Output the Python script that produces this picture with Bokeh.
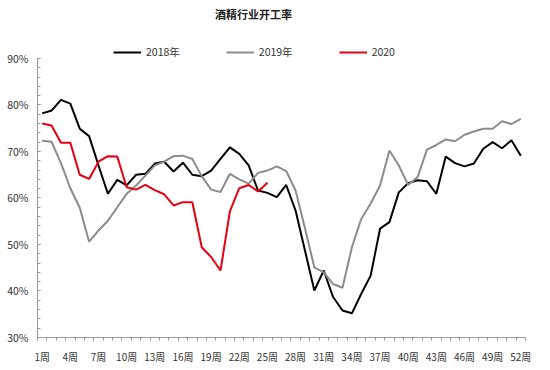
from bokeh.plotting import figure
from bokeh.models import Range1d, FixedTicker, Legend, LegendItem, Label
from bokeh.embed import file_html
from bokeh.resources import INLINE

title_text = "酒精行业开工率"
series_names = ["2018年", "2019年", "2020"]
week_labels = [f"{i}周" for i in range(1, 53)]
label_weeks = [1, 4, 7, 10, 13, 16, 19, 22, 25, 28, 31, 34, 37, 40, 43, 46, 49, 52]

w2018 = [78.2, 78.8, 81.1, 80.3, 74.9, 73.3, 67.0, 60.9, 63.9, 62.7,
         65.0, 65.2, 67.4, 67.8, 65.7, 67.6, 65.0, 64.7, 65.9, 68.4,
         70.9, 69.5, 67.0, 61.6, 61.1, 60.2, 62.8, 57.3, 48.7, 40.1,
         44.4, 38.7, 35.8, 35.2, 39.4, 43.3, 53.4, 54.8, 61.2, 63.2,
         63.8, 63.6, 60.9, 68.9, 67.5, 66.8, 67.4, 70.6, 72.0, 70.7,
         72.4, 69.1]
w2019 = [72.3, 72.1, 67.5, 62.1, 57.9, 50.6, 53.0, 55.1, 58.0, 60.9,
         62.7, 64.8, 67.0, 67.8, 69.0, 69.1, 68.4, 64.7, 61.8, 61.3,
         65.2, 64.0, 63.1, 65.4, 65.9, 66.8, 65.8, 61.6, 53.5, 45.1,
         44.0, 41.5, 40.7, 49.4, 55.5, 58.8, 62.7, 70.2, 67.0, 62.8,
         64.5, 70.4, 71.4, 72.6, 72.2, 73.6, 74.3, 74.9, 74.9, 76.5,
         75.9, 77.0]
w2020 = [76.0, 75.6, 71.9, 71.9, 65.0, 64.1, 67.8, 69.0, 68.9, 62.3,
         61.8, 62.8, 61.7, 60.8, 58.4, 59.1, 59.1, 49.4, 47.3, 44.4,
         57.1, 62.1, 62.8, 61.4, 63.3]
y_ticks = [30, 40, 50, 60, 70, 80, 90]

colors = ["#000000", "#8c8c8c", "#e60012"]
FONT = "Noto Sans CJK SC"

# frame spans y 0..337 px; 90% sits at 58 px; title and legend drawn in the empty top band
p = figure(width=550, height=370, output_backend="svg", toolbar_location=None,
           x_range=Range1d(0.5, 52.5), y_range=Range1d(30, 102.47),
           min_border_left=37, min_border_right=25, min_border_bottom=33, min_border_top=0)
p.outline_line_color = None
p.xgrid.visible = False
p.ygrid.visible = False
p.background_fill_color = "white"

p.add_layout(Label(x=216, y=324, x_units="screen", y_units="screen", text=title_text,
                   text_font=FONT, text_font_size="11px", text_font_style="bold",
                   text_color="#222222", text_align="center", text_baseline="middle"))

renderers = []
for vals, c in zip([w2018, w2019, w2020], colors):
    xs = list(range(1, len(vals) + 1))
    r = p.line(xs, vals, line_color=c, line_width=2)
    renderers.append(r)

legend = Legend(items=[LegendItem(label=n, renderers=[r]) for n, r in zip(series_names, renderers)],
                orientation="horizontal", location=(76, 278))
legend.border_line_color = None
legend.background_fill_alpha = 0
legend.margin = 0
legend.padding = 0
legend.spacing = 46
legend.glyph_width = 28
legend.glyph_height = 12
legend.label_height = 12
legend.label_standoff = 5
legend.label_text_font = FONT
legend.label_text_font_size = "10.5px"
legend.label_text_color = "#333333"
p.add_layout(legend)

xa = p.xaxis[0]
xa.ticker = FixedTicker(ticks=label_weeks, minor_ticks=[i + 0.5 for i in range(0, 53)])
xa.major_label_overrides = {w: week_labels[w - 1] for w in label_weeks}
xa.major_tick_out = 0
xa.major_tick_in = 0
xa.minor_tick_out = 3
xa.minor_tick_in = 0
xa.axis_line_color = "#999999"
xa.minor_tick_line_color = "#999999"
xa.major_label_text_font = FONT
xa.major_label_text_font_size = "10px"
xa.major_label_text_color = "#333333"
xa.major_label_standoff = 8

ya = p.yaxis[0]
ya.bounds = (30, 90)
ya.ticker = FixedTicker(ticks=y_ticks, minor_ticks=[30 + 2 * i for i in range(31)])
ya.major_label_overrides = {t: f"{t}%" for t in y_ticks}
ya.major_tick_out = 0
ya.major_tick_in = 3
ya.minor_tick_out = 0
ya.minor_tick_in = 3
ya.axis_line_color = "#999999"
ya.major_tick_line_color = "#999999"
ya.minor_tick_line_color = "#999999"
ya.major_label_text_font = FONT
ya.major_label_text_font_size = "10.5px"
ya.major_label_text_color = "#333333"
ya.major_label_standoff = 9

open("out.html", "w").write(file_html(p, INLINE))
